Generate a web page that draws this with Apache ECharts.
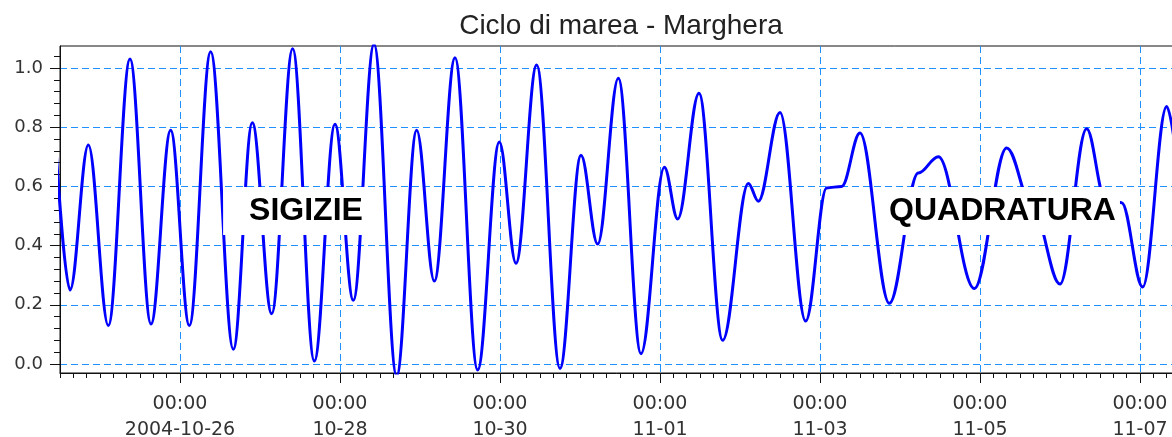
<!DOCTYPE html>
<html>
<head>
<meta charset="utf-8">
<script src="https://cdn.jsdelivr.net/npm/echarts@6/dist/echarts.min.js"></script>
<style>
html,body{margin:0;padding:0;background:#fff;}
#chart{width:1172px;height:437px;}
</style>
</head>
<body>
<div id="chart"></div>
<script>
// ---- data (hours relative to 2004-10-26 00:00, sea level in m) ----
const titleText = 'Ciclo di marea - Marghera';
const hours  = [-37.5, -33, -27.5, -21.5, -15, -8.7, -2.8, 2.8, 9.2, 16, 21.7, 27.5, 33.8, 40.3, 46.5, 52, 58.2, 65, 71, 76.3,
                82.5, 89.3, 95.8, 100.8, 107, 114, 120.3, 125.3, 131.5, 138.3, 145.3, 149.3, 155.7, 162.8, 170.5, 173.5,
                180, 187.7, 194, 198.5, 204, 212.8, 221.5, 227.5, 238.3, 248, 256, 264, 272, 277.5, 282.5, 288.8, 296, 300];
const levels = [0.78, 0.25, 0.74, 0.13, 1.03, 0.135, 0.79, 0.13, 1.055, 0.05, 0.815, 0.17, 1.065, 0.01, 0.81, 0.215, 1.08, -0.04, 0.79, 0.28,
                1.035, -0.02, 0.75, 0.34, 1.01, -0.015, 0.705, 0.405, 0.965, 0.035, 0.665, 0.49, 0.915, 0.08, 0.61, 0.55,
                0.85, 0.145, 0.595, 0.60, 0.78, 0.205, 0.645, 0.70, 0.255, 0.73, 0.52, 0.27, 0.795, 0.56, 0.545, 0.26, 0.87, 0.60];
const tickHours = [0, 48, 96, 144, 192, 240, 288];
const tickTime  = '00:00';
const tickDates = ['2004-10-26', '10-28', '10-30', '11-01', '11-03', '11-05', '11-07'];
const yTickMin = 0, yTickMax = 1.0, yTickStep = 0.2;
const annotTexts  = ['SIGIZIE', 'QUADRATURA'];
const annotHours  = [34.65, 246.75];
const annotLevels = [0.517, 0.517];

// ---- axis ranges / layout ----
const W = 1172, H = 437;
const plotLeft = 60, plotTop = 46, plotBottomY = 373, zeroY = 364;
const pxPerHour = 10 / 3;
const pxPerUnit = 296;
const xMin = -36;                                   // 2004-10-24 12:00
const xMax = xMin + (W + 2 - plotLeft) / pxPerHour; // just beyond right edge
const yMin = -(plotBottomY - zeroY) / pxPerUnit;
const yMax = (zeroY - plotTop) / pxPerUnit;
const plotRightX = plotLeft + (xMax - xMin) * pxPerHour;

const xPix = h => plotLeft + (h - xMin) * pxPerHour;
const yPix = v => zeroY - v * pxPerUnit;

const minorYMax = 1.04, minorYStep = 0.04, minorXStep = 4;

const lineColor = '#1e90ff';
const axisColor = '#111';
const fontLabel = 'DejaVu Sans';

const gridBase = {outerBoundsMode: 'none', containLabel: false};
const hidden = {show: false, axisLine: {show: false}, axisTick: {show: false}, axisLabel: {show: false},
                splitLine: {show: false}, splitArea: {show: false}, minorTick: {show: false}, minorSplitLine: {show: false}};

const option = {
  animation: false,
  backgroundColor: '#fff',
  title: {
    text: titleText,
    left: 621, top: 12, padding: 0,
    textAlign: 'center', textVerticalAlign: 'top',
    textStyle: {fontFamily: 'Liberation Sans', fontSize: 28, fontWeight: 'normal', color: '#222'}
  },
  grid: [
    // 0: data grid (frame + minor x ticks)
    Object.assign({left: plotLeft, right: W - plotRightX, top: plotTop, bottom: H - plotBottomY,
      show: true, borderColor: axisColor, borderWidth: 1, backgroundColor: 'rgba(0,0,0,0)'}, gridBase),
    // 1: major x ticks / labels / vertical grid lines
    Object.assign({left: xPix(tickHours[0]), right: W - xPix(tickHours[tickHours.length - 1]),
      top: plotTop, bottom: H - plotBottomY}, gridBase),
    // 2: major y ticks / labels / horizontal grid lines
    Object.assign({left: plotLeft, right: W - plotRightX, top: yPix(yTickMax), bottom: H - yPix(yTickMin)}, gridBase),
    // 3: minor y ticks
    Object.assign({left: plotLeft, right: W - plotRightX, top: yPix(minorYMax), bottom: H - yPix(0)}, gridBase)
  ],
  xAxis: [
    {gridIndex: 0, type: 'value', min: xMin, max: xMax, interval: minorXStep,
      axisLine: {show: true, onZero: false, lineStyle: {color: axisColor, width: 1}},
      axisTick: {show: true, length: 5, lineStyle: {color: axisColor}},
      axisLabel: {show: false}, splitLine: {show: false}, splitArea: {show: false}},
    {gridIndex: 1, type: 'value', min: tickHours[0], max: tickHours[tickHours.length - 1], interval: 48,
      axisLine: {show: false, onZero: false},
      axisTick: {show: true, length: 10, lineStyle: {color: axisColor}},
      axisLabel: {show: true, margin: 18, color: '#333', fontFamily: fontLabel, fontSize: 19, lineHeight: 26,
        formatter: v => {
          const i = tickHours.indexOf(Math.round(v));
          return i < 0 ? '' : tickTime + '\n' + tickDates[i];
        }},
      splitLine: {show: true, lineStyle: {color: lineColor, width: 1, type: [7, 4]}}, splitArea: {show: false}},
    Object.assign({gridIndex: 2, type: 'value', min: xMin, max: xMax}, hidden),
    Object.assign({gridIndex: 3, type: 'value', min: xMin, max: xMax}, hidden)
  ],
  yAxis: [
    {gridIndex: 0, type: 'value', min: yMin, max: yMax,
      axisLine: {show: true, onZero: false, lineStyle: {color: axisColor, width: 1}},
      axisTick: {show: false}, axisLabel: {show: false}, splitLine: {show: false}, splitArea: {show: false}},
    Object.assign({gridIndex: 1, type: 'value', min: yMin, max: yMax}, hidden),
    {gridIndex: 2, type: 'value', min: yTickMin, max: yTickMax, interval: yTickStep,
      axisLine: {show: false, onZero: false},
      axisTick: {show: true, length: 10, lineStyle: {color: axisColor}},
      axisLabel: {show: true, margin: 17, color: '#333', fontFamily: fontLabel, fontSize: 18,
        formatter: v => v.toFixed(1)},
      splitLine: {show: true, lineStyle: {color: lineColor, width: 1, type: [7, 4]}}, splitArea: {show: false}},
    {gridIndex: 3, type: 'value', min: 0, max: minorYMax, interval: minorYStep,
      axisLine: {show: false, onZero: false},
      axisTick: {show: true, length: 6, lineStyle: {color: axisColor}},
      axisLabel: {show: false}, splitLine: {show: false}, splitArea: {show: false}}
  ],
  series: [{
    type: 'line',
    xAxisIndex: 0, yAxisIndex: 0,
    data: hours.map((h, i) => [h, levels[i]]),
    smooth: 0.36,
    smoothMonotone: 'x',
    showSymbol: false, symbol: 'none',
    lineStyle: {color: '#0000ff', width: 3},
    clip: true,
    markPoint: {
      symbol: 'rect', symbolSize: 1,
      itemStyle: {color: 'rgba(0,0,0,0)'},
      label: {show: true, position: 'inside', formatter: p => p.name,
        fontFamily: 'Liberation Sans', fontSize: 32, fontWeight: 'bold', color: '#000',
        lineHeight: 34, backgroundColor: '#fff'},
      data: annotTexts.map((t, i) => ({
        name: t, coord: [annotHours[i], annotLevels[i]],
        label: {padding: i === 0 ? [7, 5, 7, 26] : [7, 4, 7, 4]}
      }))
    }
  }]
};

const chart = echarts.init(document.getElementById('chart'), null, {renderer: 'canvas'});
chart.setOption(option);
</script>
</body>
</html>
